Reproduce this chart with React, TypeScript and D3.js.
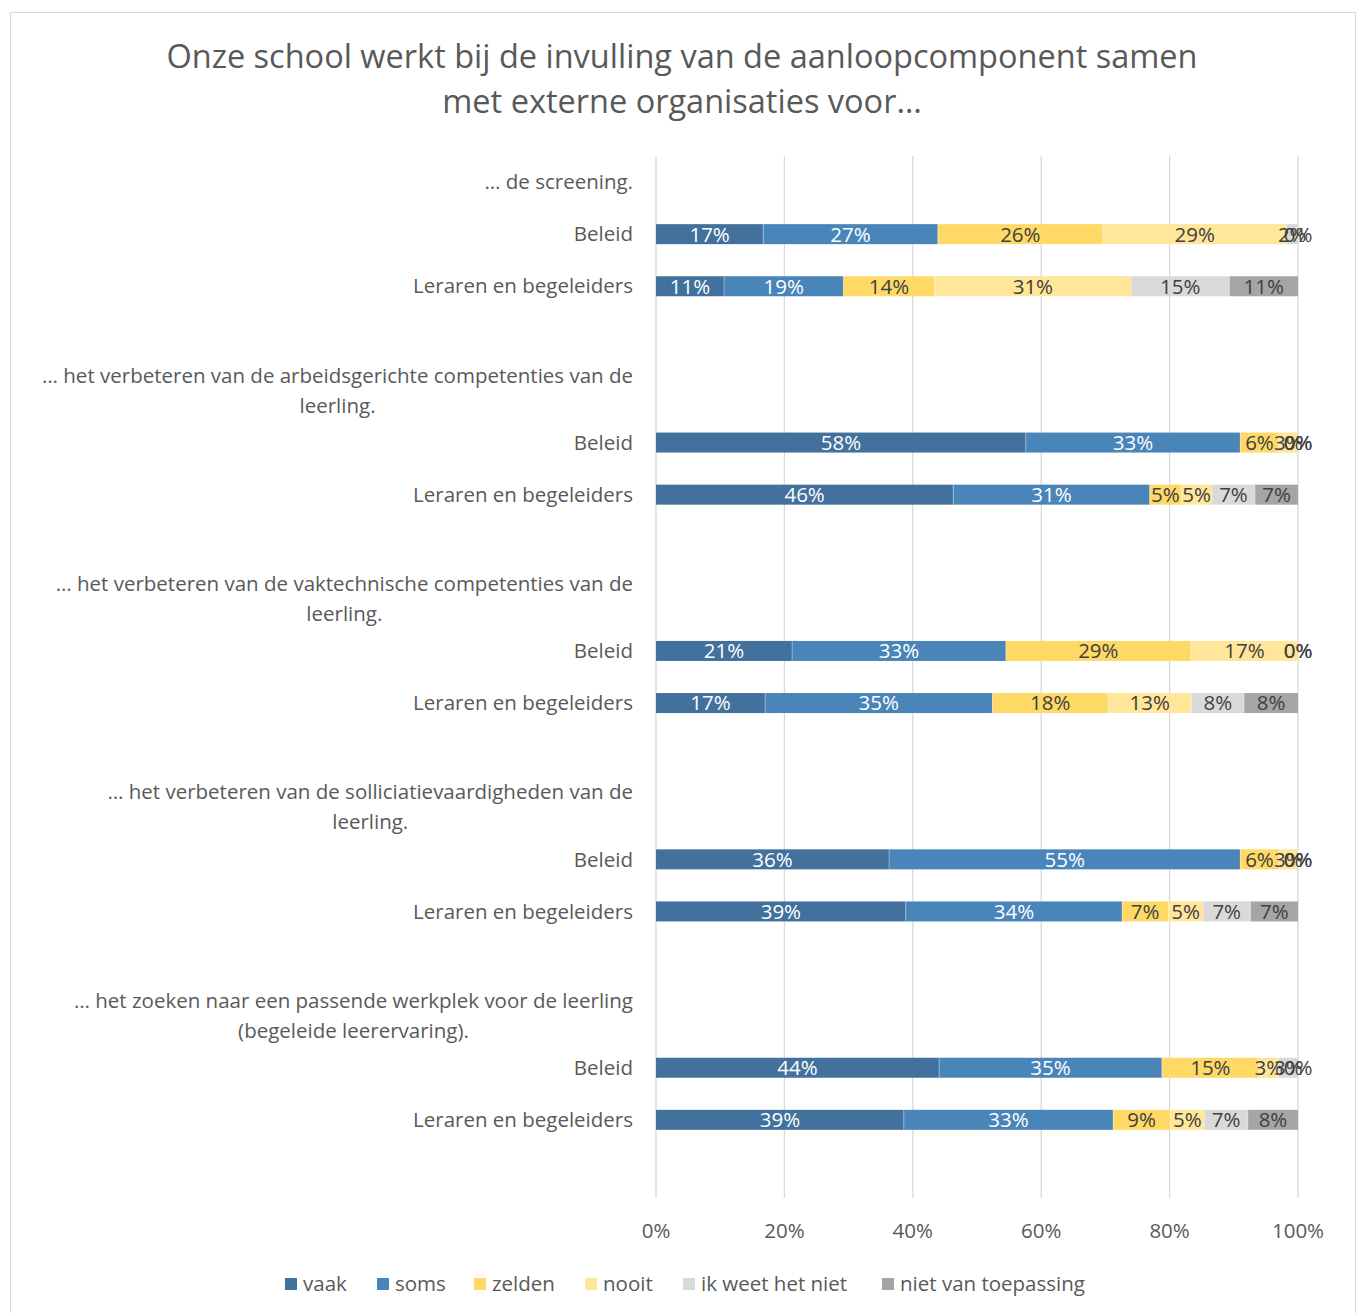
import React, { useEffect, useRef } from "react";
import * as d3 from "d3";

const titleLines = [
  "Onze school werkt bij de invulling van de aanloopcomponent samen",
  "met externe organisaties voor…",
];

const groupTitles = [
  ["… de screening."],
  ["… het verbeteren van de arbeidsgerichte competenties van de", "leerling."],
  ["… het verbeteren van de vaktechnische competenties van de", "leerling."],
  ["… het verbeteren van de solliciatievaardigheden van de", "leerling."],
  ["… het zoeken naar een passende werkplek voor de leerling", "(begeleide leerervaring)."],
];

const respondents = ["Beleid", "Leraren en begeleiders"];

const seriesNames = ["vaak", "soms", "zelden", "nooit", "ik weet het niet", "niet van toepassing"];

// order: g1 Beleid, g1 Leraren, g2 Beleid, g2 Leraren, ...
const vaak = [16.7, 10.6, 57.6, 46.3, 21.2, 17.0, 36.3, 38.9, 44.1, 38.6];
const soms = [27.2, 18.6, 33.4, 30.6, 33.3, 35.4, 54.7, 33.7, 34.7, 32.6];
const zelden = [25.7, 14.2, 6.0, 4.9, 28.8, 18.0, 6.0, 7.2, 15.1, 8.9];
const nooit = [28.6, 30.6, 3.0, 4.8, 16.7, 13.0, 3.0, 5.4, 3.1, 5.3];
const ikWeetHetNiet = [1.8, 15.3, 0, 6.7, 0, 8.2, 0, 7.4, 3.0, 6.8];
const nietVanToepassing = [0, 10.7, 0, 6.7, 0, 8.4, 0, 7.4, 0, 7.8];

const xTicks = [0, 20, 40, 60, 80, 100];

const colors = ["#41719C", "#4A85B9", "#FFD966", "#FFE699", "#D9D9D9", "#A5A5A5"];
const labelColors = ["#FFFFFF", "#FFFFFF", "#404040", "#404040", "#404040", "#404040"];

const FONT = "'Open Sans', 'Noto Sans', sans-serif";

export default function App() {
  const ref = useRef<SVGSVGElement | null>(null);

  useEffect(() => {
    const svg = d3.select(ref.current);
    svg.selectAll("*").remove();

    const plot = { left: 656, right: 1298, top: 156, bottom: 1198 };
    const FS = 20.5;

    svg
      .append("rect")
      .attr("x", 10.5)
      .attr("y", 12.5)
      .attr("width", 1345)
      .attr("height", 1310)
      .attr("fill", "#FFFFFF")
      .attr("stroke", "#D9D9D9");

    // title
    svg
      .append("g")
      .selectAll("text")
      .data(titleLines)
      .join("text")
      .attr("x", 682)
      .attr("y", (d, i) => 57 + i * 45)
      .attr("dy", "0.35em")
      .attr("text-anchor", "middle")
      .attr("fill", "#595959")
      .attr("font-family", FONT)
      .attr("font-size", 32.5)
      .text((d) => d);

    // rows
    type Row = { kind: "header" | "bar" | "blank"; group: number; idx: number; label: string[] };
    const rows: Row[] = [];
    groupTitles.forEach((t, g) => {
      rows.push({ kind: "header", group: g, idx: -1, label: t });
      respondents.forEach((r, k) => rows.push({ kind: "bar", group: g, idx: g * 2 + k, label: [r] }));
      rows.push({ kind: "blank", group: g, idx: -1, label: [] });
    });

    const y = d3
      .scaleBand<number>()
      .domain(rows.map((_, i) => i))
      .range([plot.top, plot.bottom])
      .paddingInner(0.615)
      .paddingOuter(0.3075);
    const yc = (i: number) => (y(i) as number) + y.bandwidth() / 2;

    const x = d3.scaleLinear().domain([0, 100]).range([plot.left, plot.right]);

    // gridlines
    svg
      .append("g")
      .selectAll("line")
      .data(xTicks)
      .join("line")
      .attr("x1", (d) => x(d))
      .attr("x2", (d) => x(d))
      .attr("y1", plot.top)
      .attr("y2", plot.bottom)
      .attr("stroke", "#D9D9D9")
      .attr("stroke-width", 1.3);

    // tick labels
    svg
      .append("g")
      .selectAll("text")
      .data(xTicks)
      .join("text")
      .attr("x", (d) => x(d))
      .attr("y", 1231)
      .attr("dy", "0.35em")
      .attr("text-anchor", "middle")
      .attr("fill", "#595959")
      .attr("font-family", FONT)
      .attr("font-size", FS)
      .text((d) => d + "%");

    // stacked data
    const allSeries = [vaak, soms, zelden, nooit, ikWeetHetNiet, nietVanToepassing];
    const table = vaak.map((_, i) => {
      const o: Record<string, number> = { i };
      seriesNames.forEach((s, k) => (o[s] = allSeries[k][i]));
      return o;
    });
    const stacked = d3.stack<Record<string, number>>().keys(seriesNames)(table);

    const rowOfIdx = (idx: number) => rows.findIndex((r) => r.idx === idx);

    const barH = 20;
    stacked.forEach((layer, k) => {
      const g = svg.append("g");
      g.selectAll("rect")
        .data(layer)
        .join("rect")
        .attr("x", (d) => x(d[0]))
        .attr("width", (d) => Math.max(0, x(d[1]) - x(d[0])))
        .attr("y", (d, i) => yc(rowOfIdx(i)) - barH / 2)
        .attr("height", barH)
        .attr("fill", colors[k]);
    });
    stacked.forEach((layer, k) => {
      if (k === 0) return;
      svg
        .append("g")
        .selectAll("line")
        .data(layer.filter((d) => d[1] - d[0] > 0))
        .join("line")
        .attr("x1", (d) => x(d[0]))
        .attr("x2", (d) => x(d[0]))
        .attr("y1", (d) => yc(rowOfIdx(d.data.i)) - barH / 2)
        .attr("y2", (d) => yc(rowOfIdx(d.data.i)) + barH / 2)
        .attr("stroke", "#FFFFFF")
        .attr("stroke-opacity", 0.35)
        .attr("stroke-width", 1);
    });
    stacked.forEach((layer, k) => {
      svg
        .append("g")
        .selectAll("text")
        .data(layer)
        .join("text")
        .attr("x", (d) => (x(d[0]) + x(d[1])) / 2)
        .attr("y", (d, i) => yc(rowOfIdx(i)))
        .attr("dy", "0.36em")
        .attr("text-anchor", "middle")
        .attr("fill", labelColors[k])
        .attr("font-family", FONT)
        .attr("font-size", FS)
        .text((d) => Math.round(d[1] - d[0]) + "%");
    });

    // category labels
    const labelRight = 633;
    rows.forEach((r, i) => {
      if (r.label.length === 0) return;
      const cy = yc(i);
      if (r.label.length === 1) {
        svg
          .append("text")
          .attr("x", labelRight)
          .attr("y", cy)
          .attr("dy", "0.35em")
          .attr("text-anchor", "end")
          .attr("fill", "#595959")
          .attr("font-family", FONT)
          .attr("font-size", FS)
          .text(r.label[0]);
      } else {
        const lh = 30;
        const t = svg
          .append("text")
          .attr("fill", "#595959")
          .attr("font-family", FONT)
          .attr("font-size", FS)
          .attr("text-anchor", "middle");
        const tspans = r.label.map((l, j) =>
          t
            .append("tspan")
            .attr("y", cy + (j - (r.label.length - 1) / 2) * lh)
            .attr("dy", "0.35em")
            .text(l)
        );
        const widths = tspans.map((s) => (s.node() as SVGTSpanElement).getComputedTextLength());
        const maxW = Math.max(...widths);
        tspans.forEach((s) => s.attr("x", labelRight - maxW / 2));
      }
    });

    // legend
    const legendX = [285, 377, 474, 585, 683, 882];
    const lg = svg.append("g");
    seriesNames.forEach((s, k) => {
      lg.append("rect")
        .attr("x", legendX[k])
        .attr("y", 1278)
        .attr("width", 12)
        .attr("height", 12)
        .attr("fill", colors[k]);
      lg.append("text")
        .attr("x", legendX[k] + 18)
        .attr("y", 1284)
        .attr("dy", "0.35em")
        .attr("fill", "#595959")
        .attr("font-family", FONT)
        .attr("font-size", FS)
        .text(s);
    });
  }, []);

  return (
    <svg
      ref={ref}
      width={1360}
      height={1313}
      style={{ position: "absolute", left: 0, top: 0, display: "block" }}
    />
  );
}
